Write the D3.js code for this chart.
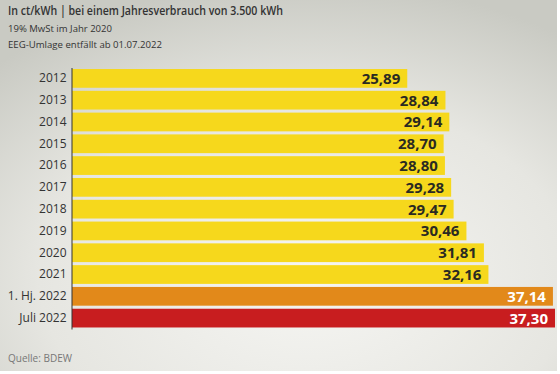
<!DOCTYPE html>
<html>
	<head>
		<meta charset="utf-8">
		<title>Strompreis</title>
		<script src="https://d3js.org/d3.v7.min.js"></script>
		<style type="text/css">
			body { margin: 0; background: #fff; }
			text { font-family: 'Open Sans', sans-serif; }
		</style>
	</head>
	<body>
		<script type="text/javascript">

			var svgWidth = 560;
			var svgHeight = 374;

			// Daten
			var categories = ['2012', '2013', '2014', '2015', '2016', '2017', '2018',
				'2019', '2020', '2021', '1. Hj. 2022', 'Juli 2022'];
			var values = [25.89, 28.84, 29.14, 28.70, 28.80, 29.28, 29.47,
				30.46, 31.81, 32.16, 37.14, 37.30];
			var barColors = ['#f6d81c', '#f6d81c', '#f6d81c', '#f6d81c', '#f6d81c', '#f6d81c',
				'#f6d81c', '#f6d81c', '#f6d81c', '#f6d81c', '#e2891a', '#c81d1f'];
			var labelColors = ['#2a2a22', '#2a2a22', '#2a2a22', '#2a2a22', '#2a2a22', '#2a2a22',
				'#2a2a22', '#2a2a22', '#2a2a22', '#2a2a22', '#ffffff', '#ffffff'];

			var svg = d3.select('body')
				.append('svg')
				.attr('width', svgWidth)
				.attr('height', svgHeight);

			// Hintergrund
			var defs = svg.append('defs');
			var grad = defs.append('radialGradient')
				.attr('id', 'bg')
				.attr('cx', '0.55').attr('cy', '0.75').attr('r', '0.8');
			grad.append('stop').attr('offset', '0%').attr('stop-color', '#f6f6f3');
			grad.append('stop').attr('offset', '60%').attr('stop-color', '#e6e6e1');
			grad.append('stop').attr('offset', '100%').attr('stop-color', '#c9cac3');

			svg.append('rect')
				.attr('width', 557).attr('height', 371)
				.attr('fill', 'url(#bg)');

			var xScale = d3.scaleLinear()
				.domain([0, 37.30])
				.range([72, 555]);

			var yScale = d3.scaleBand()
				.domain(categories)
				.range([67.5, 329])
				.paddingInner(0.14)
				.paddingOuter(0.07);

			svg.selectAll('rect.bar')
				.data(values)
				.enter()
				.append('rect')
				.attr('class', 'bar')
				.attr('x', xScale(0))
				.attr('y', function(d, i) { return yScale(categories[i]); })
				.attr('width', function(d) { return xScale(d) - xScale(0); })
				.attr('height', yScale.bandwidth())
				.attr('fill', function(d, i) { return barColors[i]; });

			svg.selectAll('text.val')
				.data(values)
				.enter()
				.append('text')
				.attr('class', 'val')
				.text(function(d) { return d.toFixed(2).replace('.', ','); })
				.attr('x', function(d) { return xScale(d) - 7; })
				.attr('y', function(d, i) { return yScale(categories[i]) + yScale.bandwidth() / 2 + 5.5; })
				.attr('text-anchor', 'end')
				.attr('font-size', '15px')
				.attr('font-weight', 'bold')
				.attr('fill', function(d, i) { return labelColors[i]; });

			// Achse links
			var yAxis = d3.axisLeft(yScale).tickSize(0).tickPadding(5);
			var gy = svg.append('g')
				.attr('transform', 'translate(71.5,0)')
				.call(yAxis);
			gy.select('.domain').attr('stroke', '#333').attr('stroke-width', 1);
			gy.selectAll('text')
				.attr('font-size', '12px')
				.attr('fill', '#333')
				.style('font-family', "'Open Sans', sans-serif");

			// Texte
			svg.append('text')
				.text('In ct/kWh | bei einem Jahresverbrauch von 3.500 kWh')
				.attr('x', 8).attr('y', 15)
				.attr('font-size', '12px')
				.attr('font-weight', '600')
				.attr('textLength', 275)
				.attr('lengthAdjust', 'spacingAndGlyphs')
				.attr('fill', '#333');

			svg.append('text')
				.text('19% MwSt im Jahr 2020')
				.attr('x', 8).attr('y', 32)
				.attr('font-size', '9.5px')
				.attr('textLength', 104)
				.attr('lengthAdjust', 'spacingAndGlyphs')
				.attr('fill', '#333');

			svg.append('text')
				.text('EEG-Umlage entfällt ab 01.07.2022')
				.attr('x', 8).attr('y', 48)
				.attr('font-size', '9.5px')
				.attr('textLength', 154)
				.attr('lengthAdjust', 'spacingAndGlyphs')
				.attr('fill', '#333');

			svg.append('text')
				.text('Quelle: BDEW')
				.attr('x', 8).attr('y', 362)
				.attr('font-size', '10px')
				.attr('fill', '#777');

		</script>
	</body>
</html>
